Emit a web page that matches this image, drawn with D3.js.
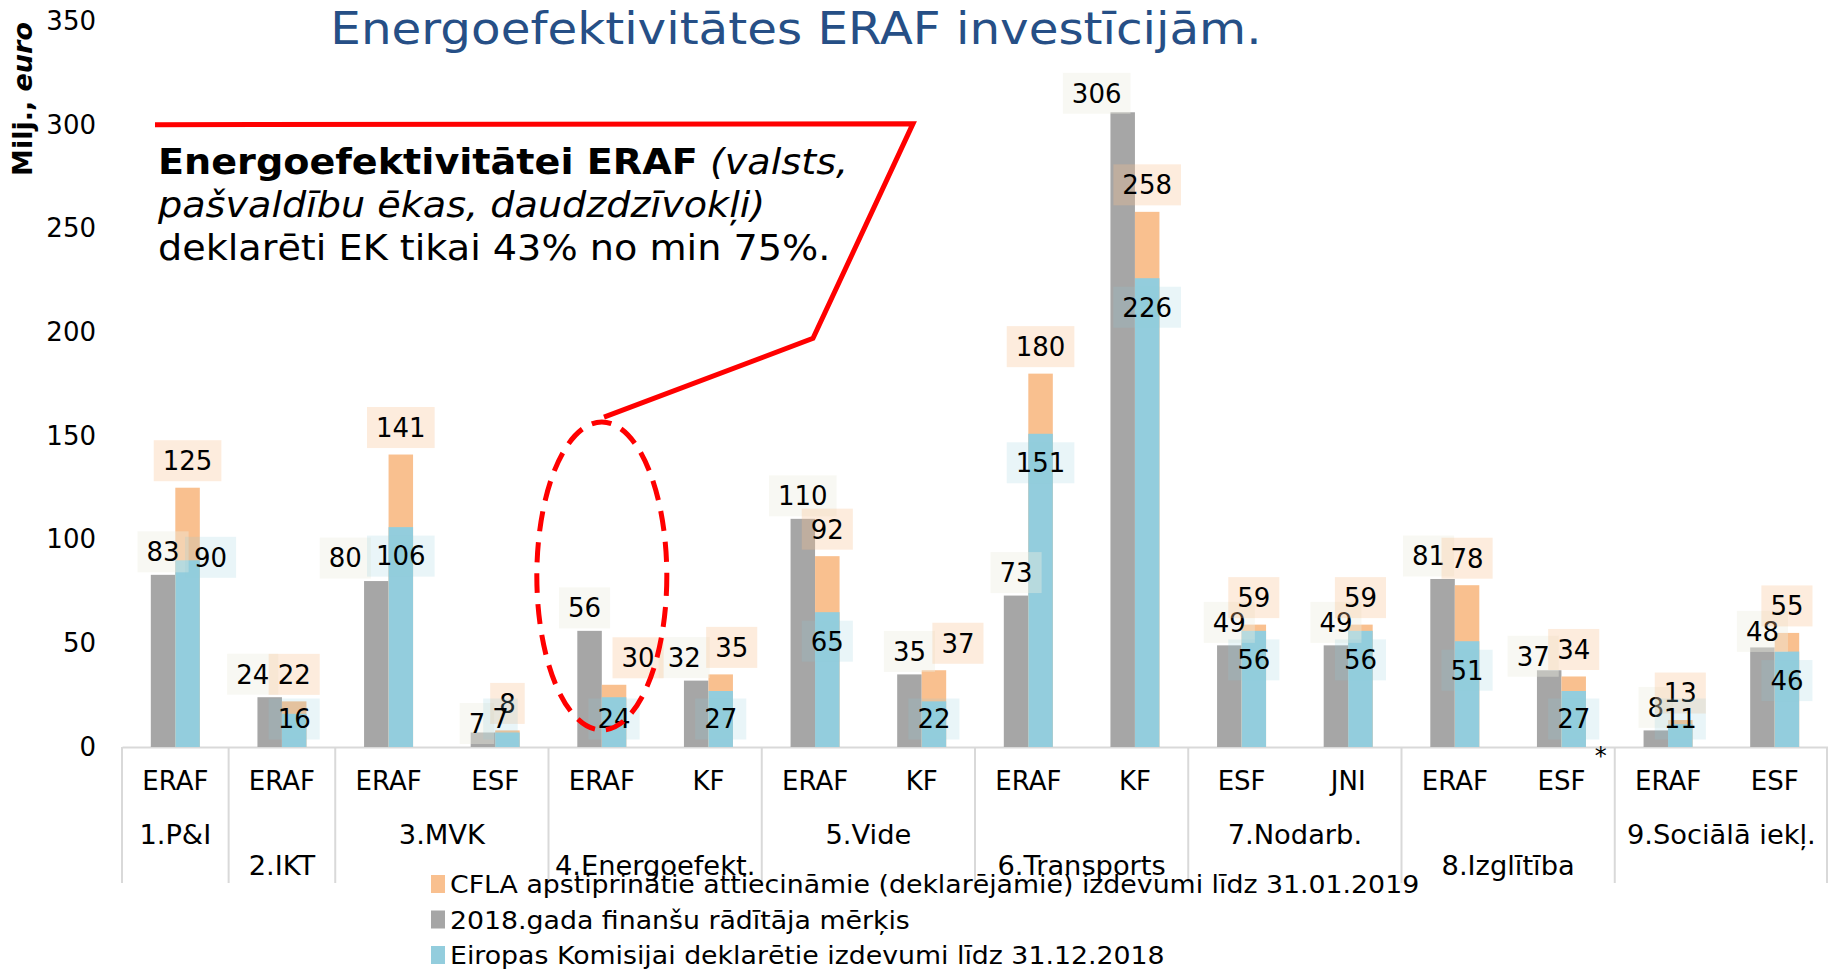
<!DOCTYPE html>
<html>
<head>
<meta charset="utf-8">
<script src="https://cdn.jsdelivr.net/npm/d3@7"></script>
<style>
  body { margin: 0; background: #fff; }
  text { font-family: "DejaVu Sans", Verdana, sans-serif; }
</style>
</head>
<body>
<script>
// dati
const groups = ["1.P&I", "2.IKT", "3.MVK", "4.Energoefekt.", "5.Vide", "6.Transports", "7.Nodarb.", "8.Izglītība", "9.Sociālā iekļ."];
const groupOf = [0, 1, 2, 2, 3, 3, 4, 4, 5, 5, 6, 6, 7, 7, 8, 8];
const funds = ["ERAF", "ERAF", "ERAF", "ESF", "ERAF", "KF", "ERAF", "KF", "ERAF", "KF", "ESF", "JNI", "ERAF", "ESF", "ERAF", "ESF"];
const target2018 = [83, 24, 80, 7, 56, 32, 110, 35, 73, 306, 49, 49, 81, 37, 8, 48];
const cfla = [125, 22, 141, 8, 30, 35, 92, 37, 180, 258, 59, 59, 78, 34, 13, 55];
const ekDeclared = [90, 16, 106, 7, 24, 27, 65, 22, 151, 226, 56, 56, 51, 27, 11, 46];
const yTicks = [0, 50, 100, 150, 200, 250, 300, 350];
const legendItems = [
  "CFLA apstiprinātie attiecināmie (deklarējamie) izdevumi līdz 31.01.2019",
  "2018.gada finanšu rādītāja mērķis",
  "Eiropas Komisijai deklarētie izdevumi līdz 31.12.2018"
];

// krāsas
const cGray = "#a6a6a6", cOrange = "#f9c08f", cBlue = "#93cddd";

// manuāli pabīdītas datu etiķetes (kā oriģinālā)
const nudge = {
  g1: [-17, 0], g2: [-31, 0], g3: [-6, 14], g4: [-5, 0], g5: [-12, 0], g9: [-26, 4], g12: [-14, 0], g13: [-16, 9], g15: [0, 7],
  o4: [24, 0], o5: [11, 0], o7: [24, 0],
  b0: [23, -32], b3: [-7, 0]
};

const W = 1828, H = 970;
const svg = d3.select("body").append("svg").attr("width", W).attr("height", H);

// Verdana oriģinālā ir platāks par DejaVu, tāpēc tekstu nedaudz izstiepjam
function stretch(sel, k, ox) {
  sel.attr("transform", `translate(${ox},0) scale(${k},1) translate(${-ox},0)`);
}

const x = d3.scaleBand().domain(d3.range(funds.length)).range([122, 1828]).padding(0);
const bw = 24.5;
const xi = d3.scaleBand().domain(["g", "c"])
  .range([x.bandwidth() / 2 - bw, x.bandwidth() / 2 + bw]);
const y = d3.scaleLinear().domain([0, 350]).range([747, 21]);

// virsraksts
svg.append("text")
  .attr("x", 796).attr("y", 44)
  .attr("text-anchor", "middle")
  .attr("font-size", 45)
  .attr("fill", "#264f86")
  .text("Energoefektivitātes ERAF investīcijām.")
  .call(stretch, 1.075, 796);

// y ass
const yAxis = svg.append("g")
  .attr("transform", "translate(96,0)")
  .call(d3.axisLeft(y).tickValues(yTicks).tickSize(0).tickPadding(0));
yAxis.select(".domain").remove();
yAxis.selectAll("text").attr("font-size", 26).attr("font-family", "DejaVu Sans, sans-serif").attr("fill", "#000");

const yTitle = svg.append("text")
  .attr("transform", "translate(32,99) rotate(-90)")
  .attr("text-anchor", "middle")
  .attr("font-size", 27)
  .attr("font-weight", "bold");
yTitle.append("tspan").text("Milj., ");
yTitle.append("tspan").attr("font-style", "italic").text("euro");

// x ass
const xAxis = svg.append("g")
  .attr("transform", `translate(0,${y(0)})`)
  .call(d3.axisBottom(x).tickSize(0).tickSizeOuter(0).tickPadding(25).tickFormat(i => funds[i]));
xAxis.select(".domain").attr("stroke", "#d9d9d9").attr("stroke-width", 2);
xAxis.selectAll("text").attr("font-size", 26).attr("font-family", "DejaVu Sans, sans-serif").attr("fill", "#000");

// grupu robežas
const bounds = [0];
groupOf.forEach((g, i) => { if (i > 0 && g !== groupOf[i - 1]) bounds.push(i); });
bounds.push(funds.length);

svg.append("g").selectAll("line")
  .data(bounds)
  .join("line")
  .attr("x1", i => i < funds.length ? x(i) : x.range()[1] - 1)
  .attr("x2", i => i < funds.length ? x(i) : x.range()[1] - 1)
  .attr("y1", y(0))
  .attr("y2", 883)
  .attr("stroke", "#d9d9d9")
  .attr("stroke-width", 2);

svg.append("g").selectAll("text")
  .data(groups)
  .join("text")
  .each(function (d, gi) {
    const idx = d3.range(funds.length).filter(i => groupOf[i] === gi);
    const cx = (x(idx[0]) + x(idx[idx.length - 1]) + x.bandwidth()) / 2;
    d3.select(this)
      .attr("x", cx)
      .attr("y", gi % 2 === 0 ? 844 : 875)
      .call(stretch, 1.05, cx);
  })
  .attr("text-anchor", "middle")
  .attr("font-size", 26)
  .text(d => d);

// stabiņi
const bars = svg.append("g");
bars.selectAll(".gray")
  .data(target2018)
  .join("rect")
  .attr("class", "gray")
  .attr("x", (d, i) => x(i) + xi("g"))
  .attr("width", xi.bandwidth())
  .attr("y", d => y(d))
  .attr("height", d => y(0) - y(d))
  .attr("fill", cGray);

bars.selectAll(".orange")
  .data(cfla)
  .join("rect")
  .attr("class", "orange")
  .attr("x", (d, i) => x(i) + xi("c"))
  .attr("width", xi.bandwidth())
  .attr("y", d => y(d))
  .attr("height", d => y(0) - y(d))
  .attr("fill", cOrange);

bars.selectAll(".blue")
  .data(ekDeclared)
  .join("rect")
  .attr("class", "blue")
  .attr("x", (d, i) => x(i) + xi("c"))
  .attr("width", xi.bandwidth())
  .attr("y", d => y(d))
  .attr("height", d => y(0) - y(d))
  .attr("fill", cBlue);

// datu etiķetes ar puscaurspīdīgu fonu
function labels(values, key, slot, posY, boxFill, boxOpacity) {
  const g = svg.append("g");
  values.forEach((v, i) => {
    const n = nudge[key + i] || [0, 0];
    const cx = x(i) + xi(slot) + xi.bandwidth() / 2 + n[0];
    const cy = posY(v) + n[1];
    const box = g.append("rect");
    const t = g.append("text")
      .attr("x", cx).attr("y", cy)
      .attr("dy", "0.36em")
      .attr("text-anchor", "middle")
      .attr("font-size", 26)
      .text(v);
    const w = t.node().getComputedTextLength() + 18;
    box.attr("x", cx - w / 2).attr("y", cy - 20.5)
      .attr("width", w).attr("height", 41)
      .attr("fill", boxFill).attr("fill-opacity", boxOpacity);
  });
}
labels(target2018, "g", "g", v => y(v) - 23, "#eeeee0", 0.4);
labels(cfla, "o", "c", v => y(v) - 27, cOrange, 0.3);
labels(ekDeclared, "b", "c", v => Math.min(y(v) + 29, 719), cBlue, 0.2);

svg.append("text")
  .attr("x", x(13) + x.bandwidth() - 14).attr("y", 764)
  .attr("text-anchor", "middle")
  .attr("font-size", 24)
  .text("*");

// anotācija
svg.append("polyline")
  .attr("points", [[155, y(300)], [913, y(300.5)], [813, y(197)], [604, y(159)]].join(" "))
  .attr("fill", "none")
  .attr("stroke", "#ff0000")
  .attr("stroke-width", 5);

svg.append("ellipse")
  .attr("cx", x(4) + x.bandwidth() / 2)
  .attr("cy", 576)
  .attr("rx", 65)
  .attr("ry", 154)
  .attr("fill", "none")
  .attr("stroke", "#ff0000")
  .attr("stroke-width", 5)
  .attr("stroke-dasharray", "20 11");

const note = svg.append("text").attr("font-size", 36).call(stretch, 1.06, 158);
const l1 = note.append("tspan").attr("x", 158).attr("y", 174);
l1.append("tspan").attr("font-weight", "bold").text("Energoefektivitātei ERAF");
l1.append("tspan").attr("font-style", "italic").text(" (valsts,");
note.append("tspan").attr("x", 158).attr("y", 217).attr("font-style", "italic").text("pašvaldību ēkas, daudzdzīvokļi)");
note.append("tspan").attr("x", 158).attr("y", 260).text("deklarēti EK tikai 43% no min 75%.");

// leģenda
const legColors = [cOrange, cGray, cBlue];
const leg = svg.append("g").selectAll("g")
  .data(legendItems)
  .join("g")
  .attr("transform", (d, i) => `translate(431,${884 + i * 35.5})`);
leg.append("rect")
  .attr("x", 0).attr("y", -9).attr("width", 14).attr("height", 18)
  .attr("fill", (d, i) => legColors[i]);
leg.append("text")
  .attr("x", 19).attr("dy", "0.36em")
  .attr("font-size", 25.5)
  .text(d => d)
  .call(stretch, 1.05, 19);
</script>
</body>
</html>
